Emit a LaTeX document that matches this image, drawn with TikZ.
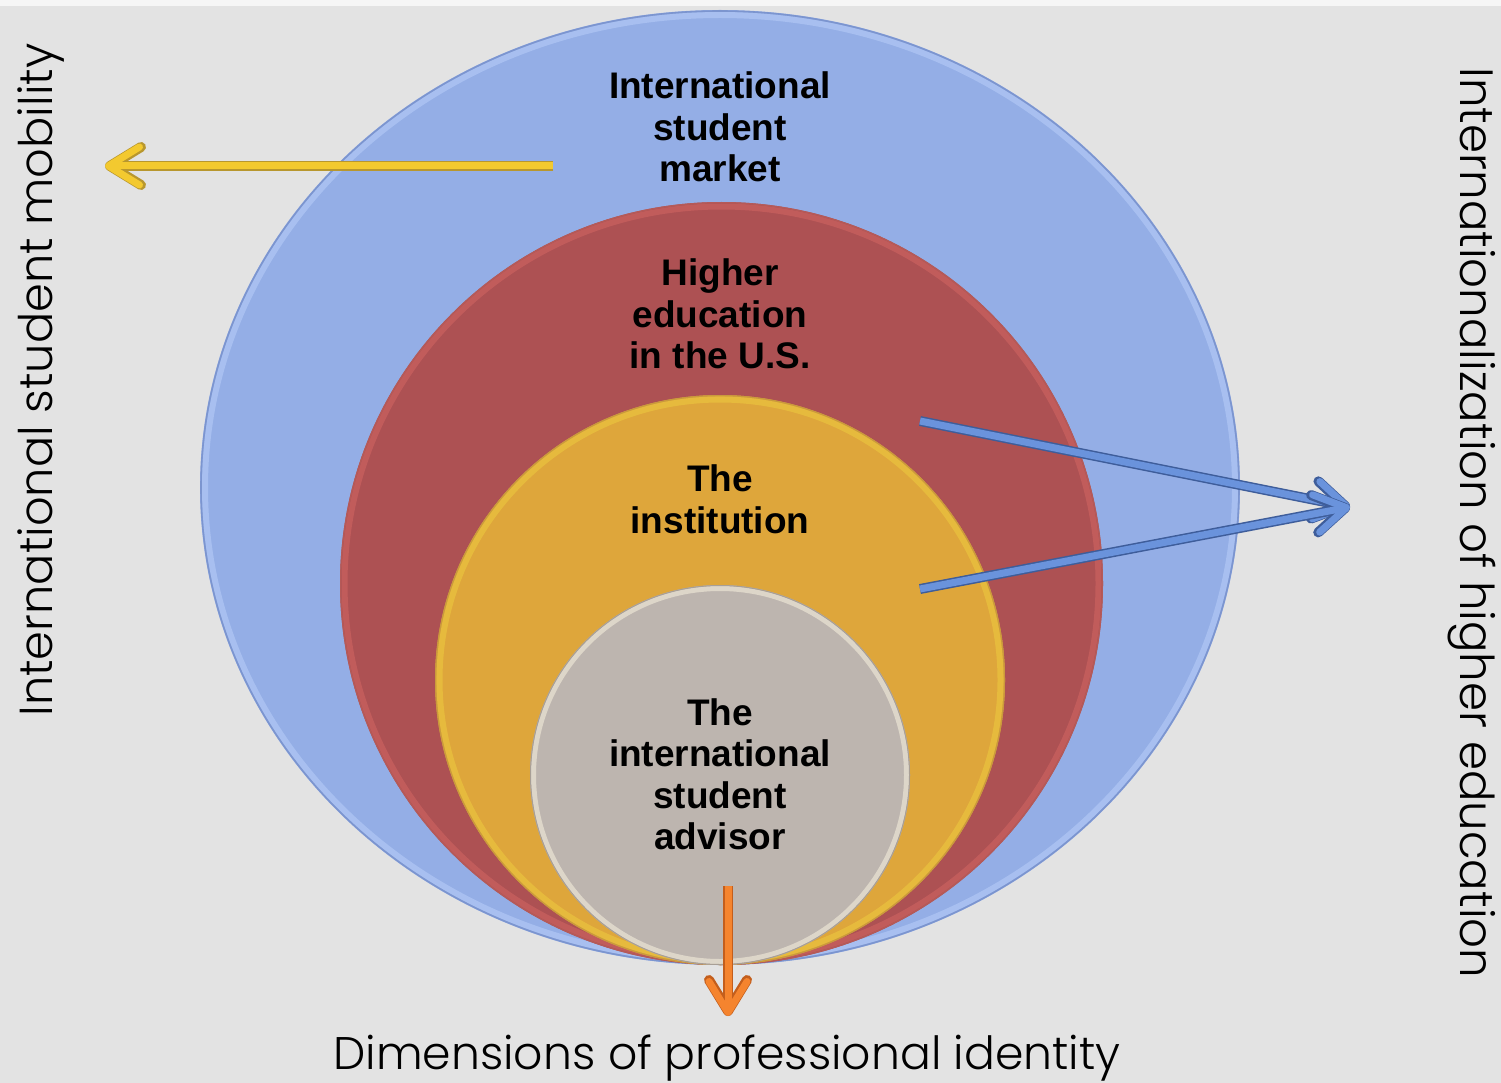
\documentclass[tikz,border=0pt]{standalone}
\usepackage{fontspec}
\setmainfont{Liberation Sans}
\newfontfamily\thinfont{Poppins Light}
\usetikzlibrary{arrows.meta}

\definecolor{bg}{HTML}{E3E3E3}
\definecolor{topband}{HTML}{F6F6F6}
\definecolor{blueFill}{HTML}{94AEE6}
\definecolor{blueRim}{HTML}{AFC6F4}
\definecolor{blueEdge}{HTML}{7C95CF}
\definecolor{redFill}{HTML}{AD5153}
\definecolor{redRim}{HTML}{C9605F}
\definecolor{redEdge}{HTML}{B55A58}
\definecolor{orangeFill}{HTML}{DEA63B}
\definecolor{orangeRim}{HTML}{EAC23E}
\definecolor{orangeEdge}{HTML}{C99A3C}
\definecolor{grayFill}{HTML}{BDB5AF}
\definecolor{grayRim}{HTML}{E9E2D2}
\definecolor{grayEdge}{HTML}{A89F96}
\definecolor{yellowArr}{HTML}{F3C92F}
\definecolor{yellowLine}{HTML}{B8972E}
\definecolor{blueArr}{HTML}{6A93DC}
\definecolor{blueLine}{HTML}{3E5D9A}
\definecolor{orangeArr}{HTML}{F5842E}
\definecolor{orangeLine}{HTML}{C35E1C}

\tikzset{
  lbl/.style={font=\fontsize{37}{41.5}\selectfont\bfseries, align=center, text=black, inner sep=0pt},
  sidetext/.style={font=\thinfont\fontsize{#1}{#1}\selectfont, text=black, inner sep=0pt},
  rim/.style={line width=6pt, draw opacity=0.75},
  fatarrow/.style 2 args={draw=#2, line width=7pt, line cap=butt,
    -{Straight Barb[length=31pt, width=38pt, line cap=round, line join=round]},
    preaction={draw=#1, line width=10pt, line cap=butt,
      -{Straight Barb[length=31pt, width=38pt, line cap=round, line join=round]}}},
}

\begin{document}
\begin{tikzpicture}[x=1pt,y=-1pt]
\useasboundingbox (0,0) rectangle (1501,1083);
\fill[bg] (0,0) rectangle (1501,1083);
\fill[topband] (0,0) rectangle (1501,6);

% outer ellipse
\fill[blueFill] (720,487.5) ellipse [x radius=520, y radius=477.5];
\draw[blueRim, rim] (720,487.5) ellipse [x radius=515, y radius=472.5];
\draw[blueEdge, line width=1.6pt] (720,487.5) ellipse [x radius=519, y radius=476.5];

% second circle
\fill[redFill] (721.5,583.5) circle [radius=381.5];
\draw[redRim, rim] (721.5,583.5) circle [radius=377];
\draw[redEdge, line width=1.4pt] (721.5,583.5) circle [radius=380.8];

% third circle
\fill[orangeFill] (720,680) circle [radius=285];
\draw[orangeRim, rim] (720,680) circle [radius=280.5];
\draw[orangeEdge, line width=1.2pt] (720,680) circle [radius=284.4];

% inner circle
\fill[grayFill] (720,775) circle [radius=190];
\draw[grayRim, rim, line width=5pt] (720,775) circle [radius=186.5];
\draw[grayEdge, line width=1pt] (720,775) circle [radius=189.5];

% labels
\node[lbl] (market) at (720,127) {International\\student\\market};
\node[lbl] (higher) at (720,314) {Higher\\education\\in the U.S.};
\node[lbl] (inst) at (720,499.5) {The\\institution};
\node[lbl] (advisor) at (720,774.5) {The\\international\\student\\advisor};

% outer captions
\node[sidetext=46.3, rotate=90, anchor=base] (mobility) at (52,380) {International student mobility};
\node[sidetext=46.7, rotate=-90, anchor=base] (intl) at (1460,523) {Internationalization of higher education};
\node[sidetext=45.7, anchor=base] (dims) at (727,1069) {Dimensions of professional identity};

% arrow end points
\coordinate (ystart) at (553,166);
\coordinate (yend) at (105,166);
\coordinate (bstartA) at (920,421);
\coordinate (bstartB) at (920,589);
\coordinate (btip) at (1350,507);
\coordinate (ostart) at (728,886);
\coordinate (oend) at (728,1016);

\draw[fatarrow={yellowLine}{yellowArr}] (ystart) -- (yend);
\draw[fatarrow={blueLine}{blueArr}] (bstartA) -- (btip);
\draw[fatarrow={blueLine}{blueArr}] (bstartB) -- (btip);
\draw[fatarrow={orangeLine}{orangeArr}] (ostart) -- (oend);
\end{tikzpicture}
\end{document}
